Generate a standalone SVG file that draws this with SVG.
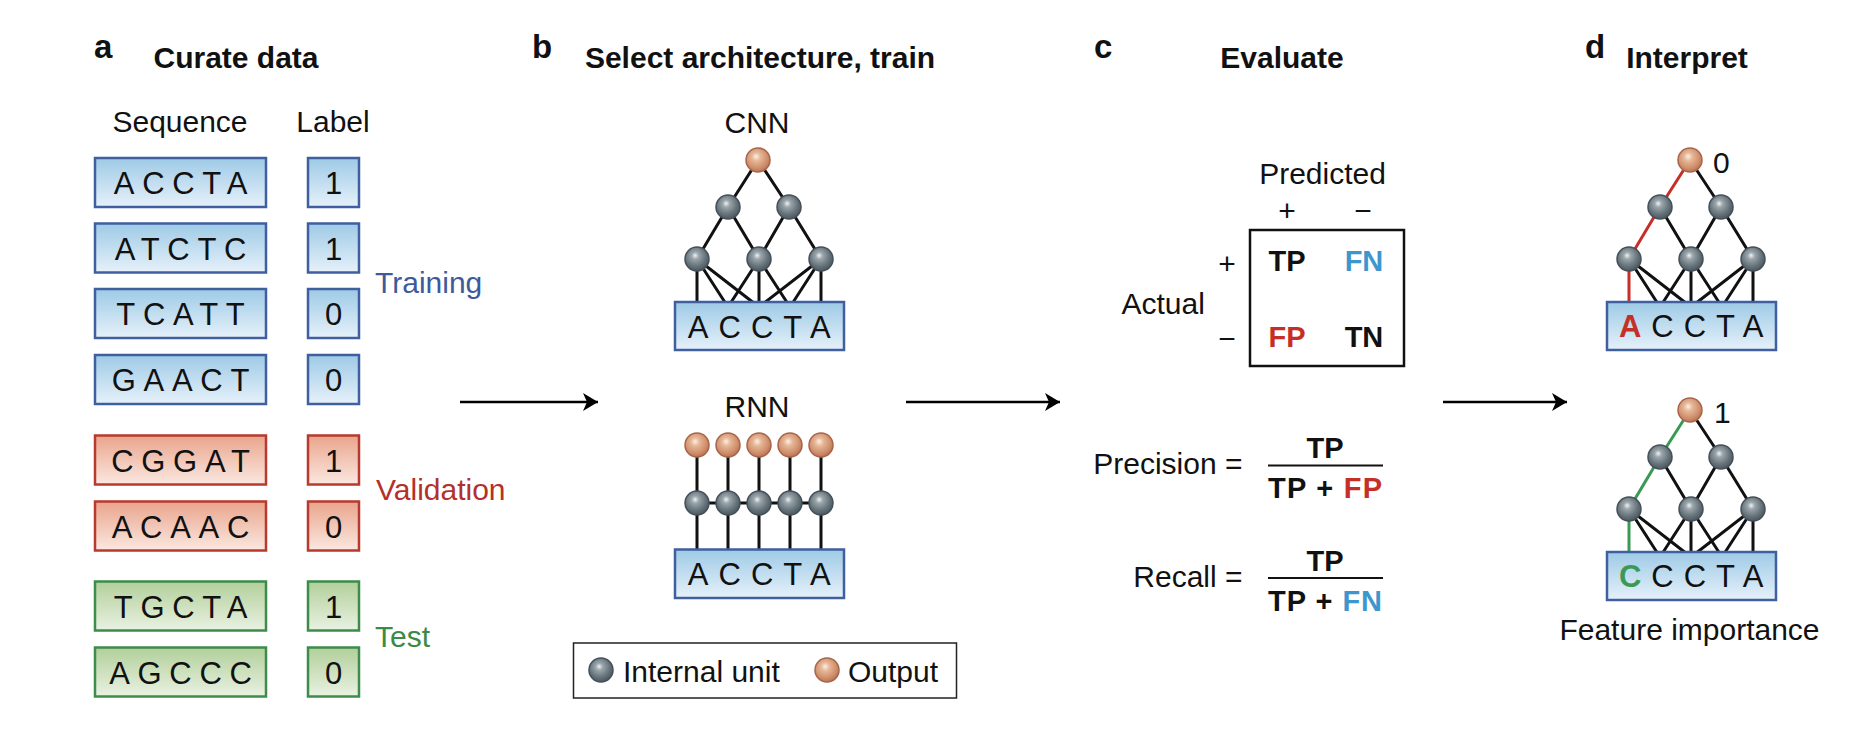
<svg xmlns="http://www.w3.org/2000/svg" width="1870" height="730" viewBox="0 0 1870 730">
<defs>
<style>
text { font-family: "Liberation Sans", Arial, Helvetica, sans-serif; fill: #111; }
.h { font-weight: bold; font-size: 30px; text-anchor: middle; }
.pl { font-weight: bold; font-size: 33px; }
.t { font-size: 30px; }
.tm { font-size: 30px; text-anchor: middle; }
.b { font-weight: bold; font-size: 29px; text-anchor: middle; }
.seq { font-size: 31px; letter-spacing: 7.7px; text-anchor: middle; }
.nseq { font-size: 31px; letter-spacing: 10px; text-anchor: middle; }
.lab { font-size: 31px; text-anchor: middle; }
.bb { fill: url(#gBlue); stroke: #3f5f9f; stroke-width: 2.5; }
.rb { fill: url(#gRed); stroke: #b83a2e; stroke-width: 2.5; }
.gb { fill: url(#gGreen); stroke: #3d8c4a; stroke-width: 2.5; }
.edge { stroke: #111; stroke-width: 3; fill: none; stroke-linecap: butt; }
.red { stroke: #c62f28; stroke-width: 3; fill: none; }
.grn { stroke: #3a9a55; stroke-width: 3; fill: none; }
.in { fill: url(#gNode); stroke: #44505a; stroke-width: 1.5; }
.out { fill: url(#gOut); stroke: #a8654a; stroke-width: 1.5; }
.arrow { stroke: #000; stroke-width: 2.5; fill: none; marker-end: url(#ah); }
</style>
<linearGradient id="gBlue" x1="0" y1="0" x2="0" y2="1">
<stop offset="0" stop-color="#9ecae6"/><stop offset="1" stop-color="#e6f1fa"/>
</linearGradient>
<linearGradient id="gRed" x1="0" y1="0" x2="0" y2="1">
<stop offset="0" stop-color="#e9a48c"/><stop offset="1" stop-color="#fbe8e0"/>
</linearGradient>
<linearGradient id="gGreen" x1="0" y1="0" x2="0" y2="1">
<stop offset="0" stop-color="#b2cf9a"/><stop offset="1" stop-color="#e9f2e2"/>
</linearGradient>
<radialGradient id="gNode" cx="0.45" cy="0.4" r="0.6" fx="0.42" fy="0.35">
<stop offset="0" stop-color="#eef2f3"/><stop offset="0.25" stop-color="#9aa6ab"/><stop offset="0.7" stop-color="#66737a"/><stop offset="1" stop-color="#4c585e"/>
</radialGradient>
<radialGradient id="gOut" cx="0.45" cy="0.4" r="0.6" fx="0.42" fy="0.35">
<stop offset="0" stop-color="#fcefe6"/><stop offset="0.3" stop-color="#e6b797"/><stop offset="0.75" stop-color="#cf8f6c"/><stop offset="1" stop-color="#b87456"/>
</radialGradient>
<marker id="ah" markerUnits="userSpaceOnUse" markerWidth="20" markerHeight="22" viewBox="-1 -11 18 22" refX="15" refY="0" orient="auto">
<path d="M0,-9 L15,0 L0,9 L4,0 Z" fill="#000"/>
</marker>
</defs>

<!-- Panel a -->
<g id="panel-a-title">
<text class="pl" x="94" y="58">a</text>
<text class="h" x="236" y="68">Curate data</text>
<text class="tm" x="180" y="131.5">Sequence</text>
<text class="tm" x="333" y="131.5">Label</text>
</g>
<g id="seq1"><rect class="bb" x="95" y="158" width="171" height="49"/><text class="seq" x="184.4" y="194">ACCTA</text></g>
<g id="lab1"><rect class="bb" x="308" y="158" width="51" height="49"/><text class="lab" x="333.5" y="194">1</text></g>
<g id="seq2"><rect class="bb" x="95" y="223.5" width="171" height="49"/><text class="seq" x="184.4" y="259.5">ATCTC</text></g>
<g id="lab2"><rect class="bb" x="308" y="223.5" width="51" height="49"/><text class="lab" x="333.5" y="259.5">1</text></g>
<g id="seq3"><rect class="bb" x="95" y="289" width="171" height="49"/><text class="seq" x="184.4" y="325">TCATT</text></g>
<g id="lab3"><rect class="bb" x="308" y="289" width="51" height="49"/><text class="lab" x="333.5" y="325">0</text></g>
<g id="seq4"><rect class="bb" x="95" y="355" width="171" height="49"/><text class="seq" x="184.4" y="391">GAACT</text></g>
<g id="lab4"><rect class="bb" x="308" y="355" width="51" height="49"/><text class="lab" x="333.5" y="391">0</text></g>
<g id="seq5"><rect class="rb" x="95" y="435.5" width="171" height="49"/><text class="seq" x="184.4" y="471.5">CGGAT</text></g>
<g id="lab5"><rect class="rb" x="308" y="435.5" width="51" height="49"/><text class="lab" x="333.5" y="471.5">1</text></g>
<g id="seq6"><rect class="rb" x="95" y="501.5" width="171" height="49"/><text class="seq" x="184.4" y="537.5">ACAAC</text></g>
<g id="lab6"><rect class="rb" x="308" y="501.5" width="51" height="49"/><text class="lab" x="333.5" y="537.5">0</text></g>
<g id="seq7"><rect class="gb" x="95" y="581.5" width="171" height="49"/><text class="seq" x="184.4" y="617.5">TGCTA</text></g>
<g id="lab7"><rect class="gb" x="308" y="581.5" width="51" height="49"/><text class="lab" x="333.5" y="617.5">1</text></g>
<g id="seq8"><rect class="gb" x="95" y="647.5" width="171" height="49"/><text class="seq" x="184.4" y="683.5">AGCCC</text></g>
<g id="lab8"><rect class="gb" x="308" y="647.5" width="51" height="49"/><text class="lab" x="333.5" y="683.5">0</text></g>
<g id="split-labels">
<text class="t" x="375" y="293" style="fill:#3e5a9a">Training</text>
<text class="t" x="376" y="500" style="fill:#b3302b">Validation</text>
<text class="t" x="375" y="646.5" style="fill:#3b8a45">Test</text>
</g>

<!-- Panel b -->
<g id="panel-b-title">
<text class="pl" x="532" y="58">b</text>
<text class="h" x="760" y="68">Select architecture, train</text>
</g>
<g id="cnn">
<text class="tm" x="757" y="133">CNN</text>
<path class="edge" d="M758,160 L728,207 M758,160 L789,207 M728,207 L697,259 M728,207 L759,259 M789,207 L759,259 M789,207 L821,259 M697,259 L697,307 M697,259 L728,307 M697,259 L759,307 M759,259 L728,307 M759,259 L759,307 M759,259 L790,307 M821,259 L759,307 M821,259 L790,307 M821,259 L821,307"/>
<rect class="bb" x="675" y="302" width="169" height="48"/>
<text class="nseq" x="764.2" y="337.5">ACCTA</text>
<circle class="out" cx="758" cy="160" r="12"/>
<circle class="in" cx="728" cy="207" r="12"/>
<circle class="in" cx="789" cy="207" r="12"/>
<circle class="in" cx="697" cy="259" r="12"/>
<circle class="in" cx="759" cy="259" r="12"/>
<circle class="in" cx="821" cy="259" r="12"/>
</g>
<g id="rnn">
<text class="tm" x="757" y="417">RNN</text>
<path class="edge" d="M697,445 L697,549 M728,445 L728,549 M759,445 L759,549 M790,445 L790,549 M821,445 L821,549 M697,503 L821,503"/>
<rect class="bb" x="675" y="549.5" width="169" height="48.5"/>
<text class="nseq" x="764.2" y="584.5">ACCTA</text>
<circle class="out" cx="697" cy="445" r="12"/>
<circle class="out" cx="728" cy="445" r="12"/>
<circle class="out" cx="759" cy="445" r="12"/>
<circle class="out" cx="790" cy="445" r="12"/>
<circle class="out" cx="821" cy="445" r="12"/>
<circle class="in" cx="697" cy="503" r="12"/>
<circle class="in" cx="728" cy="503" r="12"/>
<circle class="in" cx="759" cy="503" r="12"/>
<circle class="in" cx="790" cy="503" r="12"/>
<circle class="in" cx="821" cy="503" r="12"/>
</g>
<g id="legend">
<rect x="573.5" y="643" width="383" height="55" fill="#fff" stroke="#222" stroke-width="1.5"/>
<circle class="in" cx="601" cy="670" r="12"/>
<text class="t" x="623" y="681.5">Internal unit</text>
<circle class="out" cx="827" cy="670" r="12"/>
<text class="t" x="848" y="681.5">Output</text>
</g>

<!-- Panel c -->
<g id="panel-c-title">
<text class="pl" x="1094" y="58">c</text>
<text class="h" x="1282" y="68">Evaluate</text>
</g>
<g id="confusion-matrix">
<text class="tm" x="1322.5" y="184">Predicted</text>
<text class="tm" x="1287" y="221">+</text>
<text class="tm" x="1363" y="221">−</text>
<text class="tm" x="1227" y="274">+</text>
<text class="tm" x="1227" y="349">−</text>
<text class="t" x="1121.5" y="314">Actual</text>
<rect x="1250" y="230" width="154" height="136" fill="none" stroke="#111" stroke-width="2.5"/>
<text class="b" x="1287" y="271">TP</text>
<text class="b" x="1364" y="271" style="fill:#3d97cc">FN</text>
<text class="b" x="1287" y="347" style="fill:#c62f28">FP</text>
<text class="b" x="1364" y="347">TN</text>
</g>
<g id="precision">
<text class="t" x="1242.5" y="474" text-anchor="end">Precision =</text>
<text class="b" x="1325" y="458">TP</text>
<line x1="1268" y1="465.5" x2="1383" y2="465.5" stroke="#111" stroke-width="2"/>
<text class="b" x="1325" y="498" textLength="114">TP + <tspan style="fill:#c62f28">FP</tspan></text>
</g>
<g id="recall">
<text class="t" x="1242.5" y="586.5" text-anchor="end">Recall =</text>
<text class="b" x="1325" y="570.5">TP</text>
<line x1="1268" y1="578" x2="1383" y2="578" stroke="#111" stroke-width="2"/>
<text class="b" x="1325" y="610.5" textLength="114">TP + <tspan style="fill:#3d97cc">FN</tspan></text>
</g>

<!-- Panel d -->
<g id="panel-d-title">
<text class="pl" x="1585" y="58">d</text>
<text class="h" x="1687" y="68">Interpret</text>
</g>
<g id="interp-0">
<path class="edge" d="M1690,160 L1721,207 M1660,207 L1691,259 M1721,207 L1691,259 M1721,207 L1753,259 M1629,259 L1660,307 M1629,259 L1691,307 M1691,259 L1660,307 M1691,259 L1691,307 M1691,259 L1722,307 M1753,259 L1691,307 M1753,259 L1722,307 M1753,259 L1753,307"/>
<path class="red" d="M1690,160 L1660,207 L1629,259 L1629,307"/>
<rect class="bb" x="1607" y="302" width="169" height="48"/>
<text class="nseq" x="1696.2" y="337"><tspan style="fill:#c62f28;font-weight:bold">A</tspan>CCTA</text>
<circle class="out" cx="1690" cy="160" r="12"/>
<circle class="in" cx="1660" cy="207" r="12"/>
<circle class="in" cx="1721" cy="207" r="12"/>
<circle class="in" cx="1629" cy="259" r="12"/>
<circle class="in" cx="1691" cy="259" r="12"/>
<circle class="in" cx="1753" cy="259" r="12"/>
<text class="t" x="1713" y="172.5">0</text>
</g>
<g id="interp-1">
<path class="edge" d="M1690,410 L1721,457 M1660,457 L1691,509 M1721,457 L1691,509 M1721,457 L1753,509 M1629,509 L1660,557 M1629,509 L1691,557 M1691,509 L1660,557 M1691,509 L1691,557 M1691,509 L1722,557 M1753,509 L1691,557 M1753,509 L1722,557 M1753,509 L1753,557"/>
<path class="grn" d="M1690,410 L1660,457 L1629,509 L1629,557"/>
<rect class="bb" x="1607" y="552" width="169" height="48"/>
<text class="nseq" x="1696.2" y="586.5"><tspan style="fill:#3a9a55;font-weight:bold">C</tspan>CCTA</text>
<circle class="out" cx="1690" cy="410" r="12"/>
<circle class="in" cx="1660" cy="457" r="12"/>
<circle class="in" cx="1721" cy="457" r="12"/>
<circle class="in" cx="1629" cy="509" r="12"/>
<circle class="in" cx="1691" cy="509" r="12"/>
<circle class="in" cx="1753" cy="509" r="12"/>
<text class="t" x="1714" y="422.5">1</text>
<text class="tm" x="1689.5" y="640">Feature importance</text>
</g>

<g id="connectors">
<line class="arrow" x1="460" y1="402" x2="598" y2="402"/>
<line class="arrow" x1="906" y1="402" x2="1060" y2="402"/>
<line class="arrow" x1="1443" y1="402" x2="1567" y2="402"/>
</g>
</svg>
